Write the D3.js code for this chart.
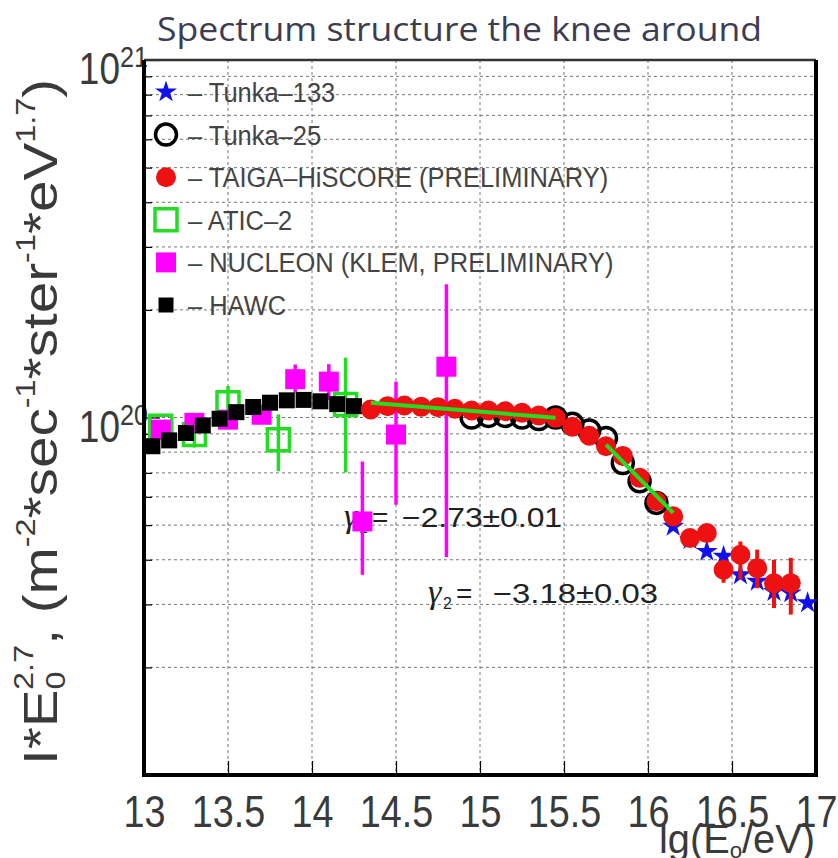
<!DOCTYPE html>
<html>
<head>
<meta charset="utf-8">
<script src="https://cdn.jsdelivr.net/npm/d3@7"></script>
<style>
  body { margin: 0; background: #fff; }
  svg { display: block; }
</style>
</head>
<body>
<svg id="chart" width="838" height="858"></svg>
<script>
// ---- data (lg E0 / eV, I*E^2.7) ----
const xTickVals = [13, 13.5, 14, 14.5, 15, 15.5, 16, 16.5, 17];
const xTickLabels = ["13", "13.5", "14", "14.5", "15", "15.5", "16", "16.5", "17"];
const yTickVals = [1e20, 1e21];
const yTickExp = ["20", "21"];

const tunka133LgE = [16.15, 16.25, 16.35, 16.45, 16.55, 16.65, 16.75, 16.85, 16.95];
const tunka133Flux = [4.96e19, 4.55e19, 4.22e19, 4.09e19, 3.63e19, 3.48e19, 3.26e19, 3.23e19, 3.03e19];

const tunka25LgE = [14.95, 15.05, 15.15, 15.25, 15.35, 15.45, 15.55, 15.65, 15.75, 15.85, 15.95, 16.05];
const tunka25Flux = [1.0e20, 1.01e20, 1.01e20, 1.0e20, 0.99e20, 1.0e20, 9.6e19, 9.2e19, 8.77e19, 7.46e19, 6.63e19, 5.77e19];

const taigaLgE = [14.35, 14.45, 14.55, 14.65, 14.75, 14.85, 14.95, 15.05, 15.15, 15.25, 15.35, 15.45, 15.55,
                  15.65, 15.75, 15.85, 15.95, 16.05, 16.15, 16.25, 16.35, 16.45, 16.55, 16.65, 16.75, 16.85];
const taigaFlux = [1.053e20, 1.076e20, 1.080e20, 1.071e20, 1.069e20, 1.058e20, 1.046e20, 1.046e20, 1.041e20, 1.031e20,
                   1.013e20, 9.98e19, 9.42e19, 8.89e19, 8.31e19, 7.81e19, 6.78e19, 5.83e19, 5.29e19, 4.60e19,
                   4.75e19, 3.75e19, 4.13e19, 3.79e19, 3.44e19, 3.44e19];
const taigaErrLo = [null, null, null, null, null, null, null, null, null, null, null, null, null,
                    null, null, null, null, null, null, null, null, 3.45e19, 3.52e19, 3.33e19, 2.93e19, 2.81e19];
const taigaErrHi = [null, null, null, null, null, null, null, null, null, null, null, null, null,
                    null, null, null, null, null, null, null, null, 4.0e19, 4.5e19, 4.27e19, 4.0e19, 4.05e19];

const aticLgE = [13.1, 13.3, 13.5, 13.8, 14.2];
const aticFlux = [9.45e19, 8.96e19, 1.10e20, 8.67e19, 1.087e20];
const aticErrLo = [9.25e19, 8.24e19, 0.99e20, 7.08e19, 7.02e19];
const aticErrHi = [9.65e19, 9.75e19, 1.225e20, 1.02e20, 1.47e20];

const nucleonLgE = [13.1, 13.3, 13.5, 13.7, 13.9, 14.1, 14.3, 14.5, 14.8];
const nucleonFlux = [9.25e19, 9.66e19, 9.86e19, 1.018e20, 1.28e20, 1.26e20, 5.12e19, 8.96e19, 1.387e20];
const nucleonErrLo = [9.0e19, 9.4e19, 9.6e19, 9.9e19, 1.175e20, 1.12e20, 3.63e19, 5.7e19, 4.07e19];
const nucleonErrHi = [9.5e19, 9.9e19, 1.01e20, 1.045e20, 1.407e20, 1.41e20, 7.53e19, 1.26e20, 2.36e20];

const hawcLgE = [13.05, 13.15, 13.25, 13.35, 13.45, 13.55, 13.65, 13.75, 13.85, 13.95, 14.05, 14.15, 14.25];
const hawcFlux = [8.31e19, 8.63e19, 9.05e19, 9.50e19, 9.92e19, 1.035e20, 1.07e20, 1.10e20, 1.117e20, 1.12e20,
                  1.11e20, 1.09e20, 1.076e20];

const fit1LgE = [14.35, 15.45];
const fit1Flux = [1.10e20, 9.98e19];
const fit2LgE = [15.75, 16.15];
const fit2Flux = [8.40e19, 5.41e19];

const legendNames = ["– Tunka–133", "– Tunka–25", "– TAIGA–HiSCORE (PRELIMINARY)", "– ATIC–2",
                     "– NUCLEON (KLEM, PRELIMINARY)", "– HAWC"];

// ---- setup ----
const svg = d3.select("#chart");
const sans = "'Liberation Sans', Arial, sans-serif";
const txtColor = "#3a3a3a";
const squeeze = 0.84;   // old ROOT fonts are narrower than Liberation Sans
const green = "#22dd22", magenta = "#ff00ff", red = "#ee1111", blue = "#1111ee";

const x = d3.scaleLinear().domain([13, 17]).range([144, 816]);
const y = d3.scaleLog().domain([1e19, 1e21]).range([775, 60]);
const [y0, y1] = y.range();
const [x0, x1] = x.range();

// title
svg.append("text")
    .attr("x", 157).attr("y", 41)
    .attr("font-family", "'Open Sans', 'Noto Sans', sans-serif")
    .attr("font-size", 33)
    .attr("fill", "#3d3d52")
    .attr("textLength", 605)
    .attr("lengthAdjust", "spacingAndGlyphs")
    .text("Spectrum structure the knee around");

// grid
let grid = svg.append("g")
    .attr("stroke", "#777")
    .attr("stroke-width", 1)
    .attr("stroke-dasharray", "3,3");

grid.selectAll("line.v")
    .data(xTickVals.slice(1, -1))
    .enter().append("line")
    .attr("x1", d => x(d)).attr("x2", d => x(d))
    .attr("y1", y1).attr("y2", y0);

let yGrid = y.ticks().filter(v => v > 1e19 && v < 1e21);
grid.selectAll("line.h")
    .data(yGrid)
    .enter().append("line")
    .attr("x1", x0).attr("x2", x1)
    .attr("y1", d => y(d)).attr("y2", d => y(d));

// x axis
let xAxis = svg.append("g")
    .attr("transform", "translate(0," + y0 + ")")
    .call(d3.axisBottom(x)
        .tickValues(xTickVals)
        .tickFormat((d, i) => xTickLabels[i])
        .tickSizeInner(-14)
        .tickSizeOuter(0)
        .tickPadding(20));
xAxis.select(".domain").remove();
xAxis.selectAll(".tick line").attr("stroke", "#000").attr("stroke-width", 1.2);
xAxis.selectAll(".tick text")
    .attr("font-family", sans)
    .attr("font-size", 45)
    .attr("fill", txtColor)
    .attr("transform", "scale(" + squeeze + ",1)");

// y axis ticks (inside)
let yAxis = svg.append("g")
    .attr("transform", "translate(" + x0 + ",0)")
    .call(d3.axisLeft(y).tickSizeInner(-8).tickSizeOuter(0).tickFormat(""));
yAxis.select(".domain").remove();
yAxis.selectAll(".tick line")
    .attr("stroke", "#000").attr("stroke-width", 1.2)
    .attr("x2", d => yTickVals.includes(d) ? 16 : 8);

// y tick labels 10^n
yTickVals.forEach((v, i) => {
    let t = svg.append("text")
        .attr("transform", "translate(" + (x0 + 4) + "," + (y(v) + 24) + ") scale(" + squeeze + ",1)")
        .attr("text-anchor", "end")
        .attr("font-family", sans)
        .attr("font-size", 44)
        .attr("fill", txtColor);
    t.append("tspan").text("10");
    t.append("tspan").attr("font-size", 30).attr("dy", -17).text(yTickExp[i]);
});

// axis titles
let xt = svg.append("text")
    .attr("transform", "translate(815,853) scale(0.97,1)")
    .attr("text-anchor", "end")
    .attr("font-family", sans)
    .attr("font-size", 41)
    .attr("fill", txtColor);
xt.append("tspan").text("lg(E");
xt.append("tspan").attr("font-size", 23).attr("dy", 5).text("o");
xt.append("tspan").attr("dy", -5).text("/eV)");

let yt = svg.append("text")
    .attr("font-family", sans)
    .attr("font-size", 49)
    .attr("fill", txtColor);
let parts = [["I*E", 0], ["0", 1], ["2.7", 2], [", (m", 0], ["-2", 3], ["*sec", 0], ["-1", 3],
             ["*ster", 0], ["-1", 3], ["*eV", 0], ["1.7", 3], [")", 0]];
let shift = 0;
parts.forEach(p => {
    let target = [0, 8, -24, -22][p[1]];
    let sp = yt.append("tspan").attr("dy", target - shift).text(p[0]);
    if (p[1] > 0) sp.attr("font-size", 28);
    if (p[1] === 2) sp.attr("dx", -16);
    shift = target;
});
let ylen = yt.node().getComputedTextLength();
yt.attr("transform", "translate(57,765) rotate(-90) scale(" + (705 / ylen) + ",1)");

// annotations
function gammaLabel(lx, ly, sub, val, numX, numLen) {
    let g = svg.append("g").attr("fill", "#222");
    g.append("text").attr("x", x(lx)).attr("y", y(ly))
        .attr("font-family", "'Liberation Serif', 'Times New Roman', serif")
        .attr("font-style", "italic").attr("font-size", 34).text("γ");
    g.append("text").attr("x", x(lx) + 15).attr("y", y(ly) + 6)
        .attr("font-family", sans).attr("font-size", 16).text(sub);
    g.append("text").attr("x", x(lx) + 28).attr("y", y(ly))
        .attr("font-family", sans).attr("font-size", 28).text("=");
    g.append("text").attr("x", x(numX)).attr("y", y(ly))
        .attr("font-family", sans).attr("font-size", 27)
        .attr("textLength", numLen)
        .attr("lengthAdjust", "spacingAndGlyphs")
        .text(val);
}
gammaLabel(14.19, 4.95e19, "1", "−2.73±0.01", 14.536, 160);
gammaLabel(14.69, 3.03e19, "2", "−3.18±0.03", 15.077, 165);

// frame
let frame = svg.append("g").attr("stroke", "#000").attr("fill", "none");
frame.append("line").attr("x1", x0).attr("x2", x1).attr("y1", y1).attr("y2", y1)
    .attr("stroke-width", 2.5).attr("stroke", "#333");
frame.append("line").attr("x1", x0).attr("x2", x0).attr("y1", y1).attr("y2", y0 + 2).attr("stroke-width", 4);
frame.append("line").attr("x1", x1).attr("x2", x1).attr("y1", y1).attr("y2", y0 + 2).attr("stroke-width", 4);
frame.append("line").attr("x1", x0 - 2).attr("x2", x1 + 2).attr("y1", y0).attr("y2", y0).attr("stroke-width", 4);

// ---- data marks ----
function errBars(lgE, lo, hi, color, w) {
    let d = lgE.map((e, i) => ({e: e, lo: lo[i], hi: hi[i]})).filter(d => d.lo !== null);
    svg.append("g").selectAll("line")
        .data(d).enter().append("line")
        .attr("x1", d => x(d.e)).attr("x2", d => x(d.e))
        .attr("y1", d => y(d.lo)).attr("y2", d => y(d.hi))
        .attr("stroke", color).attr("stroke-width", w);
}
function points(lgE, flux, sym, size, attrs) {
    let g = svg.append("g");
    let p = g.selectAll("path")
        .data(lgE.map((e, i) => [e, flux[i]]))
        .enter().append("path")
        .attr("d", d3.symbol(sym, size))
        .attr("transform", d => "translate(" + x(d[0]) + "," + y(d[1]) + ")");
    Object.keys(attrs).forEach(k => p.attr(k, attrs[k]));
}

const aticStyle = {fill: "none", stroke: green, "stroke-width": 3.5};
const nucleonStyle = {fill: magenta};
const hawcStyle = {fill: "#000"};
const tunka25Style = {fill: "none", stroke: "#000", "stroke-width": 3.5};
const tunka133Style = {fill: blue};
const taigaStyle = {fill: red};

errBars(aticLgE, aticErrLo, aticErrHi, green, 3.5);
points(aticLgE, aticFlux, d3.symbolSquare, 22 * 22, aticStyle);
errBars(nucleonLgE, nucleonErrLo, nucleonErrHi, magenta, 3.5);
points(nucleonLgE, nucleonFlux, d3.symbolSquare, 20 * 20, nucleonStyle);
points(hawcLgE, hawcFlux, d3.symbolSquare, 16 * 16, hawcStyle);
points(tunka25LgE, tunka25Flux, d3.symbolCircle, Math.PI * 10.5 * 10.5, tunka25Style);
points(tunka133LgE, tunka133Flux, d3.symbolStar, 150, tunka133Style);
errBars(taigaLgE, taigaErrLo, taigaErrHi, red, 4);
points(taigaLgE, taigaFlux, d3.symbolCircle, Math.PI * 10 * 10, taigaStyle);

// fits
let line = d3.line().x(d => x(d[0])).y(d => y(d[1]));
[[fit1LgE, fit1Flux], [fit2LgE, fit2Flux]].forEach(f => {
    svg.append("path")
        .attr("d", line(f[0].map((e, i) => [e, f[1][i]])))
        .attr("stroke", green).attr("stroke-width", 4).attr("fill", "none");
});

// ---- legend ----
const legendSyms = [
    [d3.symbolStar, 150, tunka133Style],
    [d3.symbolCircle, Math.PI * 10.5 * 10.5, tunka25Style],
    [d3.symbolCircle, Math.PI * 10 * 10, taigaStyle],
    [d3.symbolSquare, 22 * 22, aticStyle],
    [d3.symbolSquare, 20 * 20, nucleonStyle],
    [d3.symbolSquare, 15 * 15, hawcStyle]
];
let legend = svg.append("g")
    .selectAll("g")
    .data(legendNames)
    .enter().append("g")
    .attr("transform", (d, i) => "translate(166," + (92 + i * 42.6) + ")");

legend.append("path")
    .each(function (d, i) {
        let s = legendSyms[i];
        let p = d3.select(this).attr("d", d3.symbol(s[0], s[1]));
        Object.keys(s[2]).forEach(k => p.attr(k, s[2][k]));
    });

legend.append("text")
    .attr("transform", "translate(22,0) scale(0.91,1)")
    .attr("dy", "0.36em")
    .attr("font-family", sans)
    .attr("font-size", 28)
    .attr("fill", "#444")
    .text(d => d);
</script>
</body>
</html>
